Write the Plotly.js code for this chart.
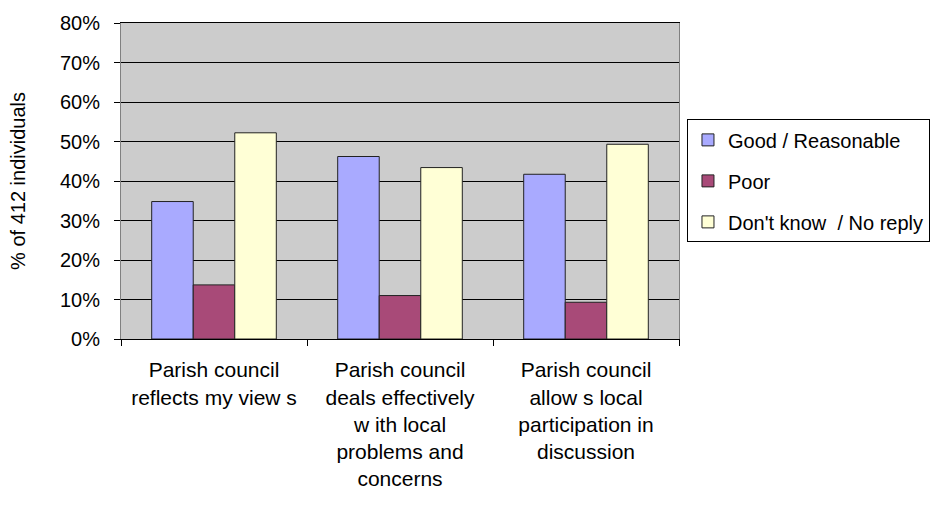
<!DOCTYPE html>
<html>
<head>
<meta charset="utf-8">
<script src="https://cdn.plot.ly/plotly-3.0.1.min.js"></script>
<style>
html,body{margin:0;padding:0;background:#fff;}
#chart{width:932px;height:508px;}
</style>
</head>
<body>
<div id="chart"></div>
<script>
const categories = [
  "Parish council<br>reflects my view s",
  "Parish council<br>deals effectively<br>w ith local<br>problems and<br>concerns",
  "Parish council<br>allow s local<br>participation in<br>discussion"
];
const seriesNames = ["Good / Reasonable", "Poor", "Don't know  / No reply"];
const goodReasonable = [34.8, 46.2, 41.7];
const poor = [13.7, 11.0, 9.3];
const dontKnow = [52.2, 43.4, 49.3];
const yTickVals = [0, 10, 20, 30, 40, 50, 60, 70, 80];
const yTickLabels = ["0%", "10%", "20%", "30%", "40%", "50%", "60%", "70%", "80%"];
const colors = ["#a9aaff", "#a84a78", "#ffffd6"];

const allValues = [goodReasonable, poor, dontKnow];
const traces = allValues.map((vals, i) => ({
  type: "bar",
  name: seriesNames[i],
  x: categories,
  y: vals,
  legendgroup: "g" + i,
  marker: {color: colors[i], line: {color: "#222", width: 1}},
  hoverinfo: "skip"
}));

const FONT = "'Liberation Sans', Arial, sans-serif";
const layout = {
  width: 932, height: 508,
  margin: {l: 121, r: 253, t: 23, b: 169, autoexpand: false},
  paper_bgcolor: "#ffffff",
  plot_bgcolor: "#cccccc",
  font: {family: FONT, size: 20, color: "#000"},
  barmode: "group",
  bargap: 0.33,
  bargroupgap: 0,
  showlegend: true,
  legend: {
    x: 1.0143, xanchor: "left", y: 0.695, yanchor: "top",
    bordercolor: "#000", borderwidth: 1, bgcolor: "#fff",
    font: {family: FONT, size: 20, color: "#000"},
    traceorder: "grouped", tracegroupgap: 12, itemwidth: 30
  },
  xaxis: {
    type: "category",
    showgrid: false,
    showline: true, linecolor: "#000", linewidth: 1, mirror: true,
    ticks: "outside", ticklen: 6, tickcolor: "#000", tickson: "boundaries",
    ticklabelstandoff: 12,
    tickfont: {family: FONT, size: 21, color: "#000"},
    fixedrange: true
  },
  yaxis: {
    range: [0, 80],
    tickmode: "array",
    tickvals: yTickVals,
    ticktext: yTickLabels,
    showgrid: true, gridcolor: "#000", gridwidth: 1,
    zeroline: false,
    showline: true, linecolor: "#808080", linewidth: 1, mirror: true,
    ticks: "outside", ticklen: 6, tickcolor: "#000",
    ticklabelstandoff: 10,
    tickfont: {family: FONT, size: 20, color: "#000"},
    title: {text: "% of 412 individuals", font: {family: FONT, size: 20, color: "#000"}, standoff: 28},
    fixedrange: true
  }
};

Plotly.newPlot("chart", traces, layout, {staticPlot: true, displayModeBar: false});
</script>
</body>
</html>
